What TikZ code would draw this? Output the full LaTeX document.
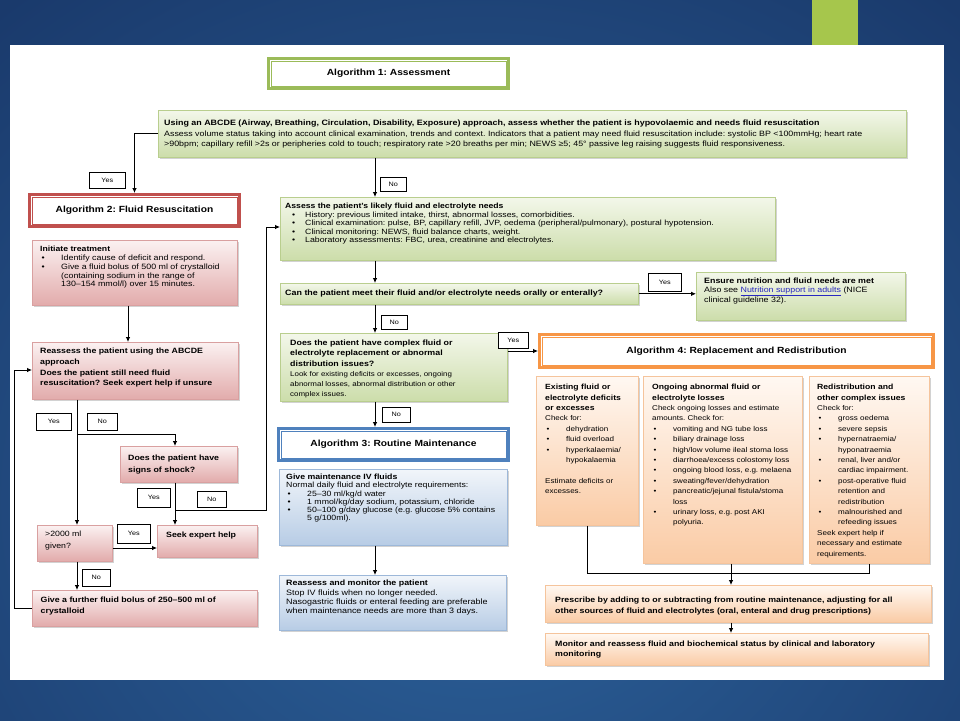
\documentclass[tikz,border=0pt]{standalone}
\usepackage{fontspec}
\setmainfont{Liberation Sans}[FakeStretch=1.15]
\frenchspacing
\usetikzlibrary{arrows.meta,shadows}
\definecolor{gA}{HTML}{9BBB59}
\definecolor{gB}{HTML}{B9CE8E}
\definecolor{gT}{HTML}{F3F7EA}
\definecolor{gF}{HTML}{CCDDAA}
\definecolor{rA}{HTML}{C0504D}
\definecolor{rB}{HTML}{D9A0A0}
\definecolor{rT}{HTML}{FBF1F1}
\definecolor{rF}{HTML}{E2ABAB}
\definecolor{bA}{HTML}{4F81BD}
\definecolor{bB}{HTML}{9DB8D9}
\definecolor{bT}{HTML}{F1F5FA}
\definecolor{bF}{HTML}{B7CCE5}
\definecolor{oA}{HTML}{F79646}
\definecolor{oB}{HTML}{F5C49C}
\definecolor{oT}{HTML}{FFF8F2}
\definecolor{oF}{HTML}{FACBA5}
\definecolor{bgIn}{HTML}{2D639C}
\definecolor{bgOut}{HTML}{1A3A6C}
\definecolor{sq}{HTML}{A6C64C}
\definecolor{lnk}{HTML}{2828C0}
\newcommand\B[1]{{\bfseries #1}}
\newcommand\bu{\makebox[21pt][l]{\hspace{1.5pt}\textbullet}}
\newcommand\bc{\hspace*{21pt}}
\newcommand\bua{\makebox[20pt][l]{\hspace{7pt}\textbullet}}
\newcommand\mkbox[8]{%
  \node[#1, minimum width=#5pt, minimum height=#6pt] (#2) at (#3,#4) {};
  \node[txt, #7] (#2t) at (#2.north west) {#8};}
\newcommand\mkboxc[8]{%
  \node[#1, minimum width=#5pt, minimum height=#6pt] (#2) at (#3,#4) {};
  \node[txt, anchor=west, #7] (#2t) at (#2.west) {#8};}
\newcommand\mkttl[7]{%
  \node[ttl=#2, minimum width=#5pt, minimum height=#6pt] (#1) at (#3,#4) {#7};
  \draw[#2, line width=0.7pt] ([shift={(4,4)}]#1.north west) rectangle ([shift={(-4,-4)}]#1.south east);}
\begin{document}
\begin{tikzpicture}[x=1pt,y=-1pt,
  txt/.style={inner sep=0pt, align=left, anchor=north west},
  shd/.style={drop shadow={shadow xshift=1.5pt, shadow yshift=-1.5pt, opacity=0.35}},
  gbox/.style={draw=gB, line width=0.6pt, top color=gT, bottom color=gF, shd, anchor=north west, inner sep=0pt},
  rbox/.style={draw=rB, line width=0.6pt, top color=rT, bottom color=rF, shd, anchor=north west, inner sep=0pt},
  bbox/.style={draw=bB, line width=0.6pt, top color=bT, bottom color=bF, shd, anchor=north west, inner sep=0pt},
  obox/.style={draw=oB, line width=0.6pt, top color=oT, bottom color=oF, shd, anchor=north west, inner sep=0pt},
  ttl/.style={draw=#1, line width=3pt, fill=white, anchor=north west, inner sep=0pt, font=\bfseries\fontsize{8.9}{11}\selectfont},
  lbl/.style={draw=black, line width=0.7pt, fill=white, inner sep=0pt, anchor=north west, font=\fontsize{6.3}{7}\selectfont},
  arr/.style={line width=0.8pt, -{Latex[length=5pt,width=4.5pt]}},
  ln/.style={line width=0.8pt}]
\useasboundingbox (0,0) rectangle (960,720);
\begin{scope}
\clip (0,0) rectangle (960,720);
\shade[inner color=bgIn, outer color=bgOut] (-250,-150) rectangle (1210,1150);
\end{scope}
\fill[sq] (812,0) rectangle (858,46);
\fill[white] (10,45) rectangle (944,680);

% titles
\mkttl{alg1}{gA}{267}{57}{240}{30}{Algorithm 1: Assessment}
\mkttl{alg2}{rA}{28}{193}{210}{32}{Algorithm 2: Fluid Resuscitation}
\mkttl{alg3}{bA}{277}{427}{230}{32}{Algorithm 3: Routine Maintenance}
\mkttl{alg4}{oA}{538}{333}{394}{33}{Algorithm 4: Replacement and Redistribution}

% algorithm 1
\mkbox{gbox}{top}{158}{110}{748}{47}{font=\fontsize{7.7}{10.3}\selectfont, xshift=6pt, yshift=-10pt}{%
\B{\fontsize{7.75}{10.3}\selectfont Using an ABCDE (Airway, Breathing, Circulation, Disability, Exposure) approach, assess whether the patient is hypovolaemic and needs fluid resuscitation}\\
Assess volume status taking into account clinical examination, trends and context. Indicators that a patient may need fluid resuscitation include: systolic BP <100mmHg; heart rate\\
>90bpm; capillary refill >2s or peripheries cold to touch; respiratory rate >20 breaths per min; NEWS ≥5; 45° passive leg raising suggests fluid responsiveness.}

\mkbox{gbox}{assess}{280}{197}{495}{63}{font=\fontsize{7.6}{8.2}\selectfont, xshift=5pt, yshift=-6pt}{%
\B{\fontsize{7.5}{8.2}\selectfont Assess the patient's likely fluid and electrolyte needs}\\[0.8pt]
\bua History: previous limited intake, thirst, abnormal losses, comorbidities.\\
\bua Clinical examination: pulse, BP, capillary refill, JVP, oedema (peripheral/pulmonary), postural hypotension.\\
\bua Clinical monitoring: NEWS, fluid balance charts, weight.\\
\bua Laboratory assessments: FBC, urea, creatinine and electrolytes.}

\mkboxc{gbox}{can}{280}{283}{358}{21}{font=\bfseries\fontsize{7.75}{9}\selectfont, xshift=5pt}{%
Can the patient meet their fluid and/or electrolyte needs orally or enterally?}

\mkbox{gbox}{ensure}{696}{272}{209}{48}{font=\fontsize{7.7}{8.3}\selectfont, xshift=8pt, yshift=-6pt}{%
\B{Ensure nutrition and fluid needs are met}\\
Also see \textcolor{lnk}{\underline{Nutrition support in adults}} (NICE\\
clinical guideline 32).}

\mkbox{gbox}{complex}{280}{333}{227}{68}{font=\fontsize{6.9}{10.2}\selectfont, xshift=10pt, yshift=-7pt}{%
\B{\fontsize{7.7}{10.2}\selectfont Does the patient have complex fluid or}\\
\B{\fontsize{7.7}{10.2}\selectfont electrolyte replacement or abnormal}\\
\B{\fontsize{7.7}{10.2}\selectfont distribution issues?}\\
Look for existing deficits or excesses, ongoing\\
abnormal losses, abnormal distribution or other\\
complex issues.}

% algorithm 3
\mkbox{bbox}{maint}{279}{469}{228}{76}{font=\fontsize{7.6}{8.2}\selectfont, xshift=7pt, yshift=-5pt}{%
\B{Give maintenance IV fluids}\\
Normal daily fluid and electrolyte requirements:\\
\bu 25–30 ml/kg/d water\\
\bu 1 mmol/kg/day sodium, potassium, chloride\\
\bu 50–100 g/day glucose (e.g. glucose 5\% contains\\
\bc 5 g/100ml).}

\mkbox{bbox}{remon}{279}{575}{227}{55}{font=\fontsize{7.8}{9.3}\selectfont, xshift=7pt, yshift=-5pt}{%
\B{\fontsize{7.7}{9.3}\selectfont Reassess and monitor the patient}\\
Stop IV fluids when no longer needed.\\
Nasogastric fluids or enteral feeding are preferable\\
when maintenance needs are more than 3 days.}

% algorithm 2
\mkbox{rbox}{init}{32}{240}{205}{65}{font=\fontsize{7.7}{8.8}\selectfont, xshift=8pt, yshift=-6pt}{%
\B{\fontsize{7.55}{8.8}\selectfont Initiate treatment}\\
\bu Identify cause of deficit and respond.\\
\bu Give a fluid bolus of 500 ml of crystalloid\\
\bc (containing sodium in the range of\\
\bc 130–154 mmol/l) over 15 minutes.}

\mkbox{rbox}{reass}{32}{342}{206}{57}{font=\bfseries\fontsize{7.65}{10.7}\selectfont, xshift=8pt, yshift=-6pt}{%
Reassess the patient using the ABCDE\\
approach\\
Does the patient still need fluid\\
resuscitation? Seek expert help if unsure}

\mkbox{rbox}{shock}{120}{446}{117}{36}{font=\bfseries\fontsize{7.65}{11.6}\selectfont, xshift=8pt, yshift=-9pt}{%
Does the patient have\\
signs of shock?}

\mkbox{rbox}{m2000}{37}{525}{75}{36}{font=\fontsize{7.6}{12}\selectfont, xshift=8pt, yshift=-6pt}{%
>2000 ml\\
given?}

\mkbox{rbox}{seek}{157}{525}{100}{32}{font=\bfseries\fontsize{7.65}{11}\selectfont, xshift=9pt, yshift=-7pt}{%
Seek expert help}

\mkbox{rbox}{further}{32}{590}{225}{36}{font=\bfseries\fontsize{7.65}{11}\selectfont, xshift=8.5pt, yshift=-7pt}{%
Give a further fluid bolus of 250–500 ml of\\
crystalloid}

% algorithm 4
\mkbox{obox}{col1}{536}{376}{102}{149}{font=\fontsize{7}{10.4}\selectfont, xshift=9pt, yshift=-8pt}{%
\B{\fontsize{7.5}{10.4}\selectfont Existing fluid or}\\
\B{\fontsize{7.5}{10.4}\selectfont electrolyte deficits}\\
\B{\fontsize{7.5}{10.4}\selectfont or excesses}\\
Check for:\\
\bu dehydration\\
\bu fluid overload\\
\bu hyperkalaemia/\\
\bc hypokalaemia\\[10.4pt]
Estimate deficits or\\
excesses.}

\mkbox{obox}{col2}{643}{376}{159}{187}{font=\fontsize{7}{10.4}\selectfont, xshift=9pt, yshift=-8pt}{%
\B{\fontsize{7.5}{10.4}\selectfont Ongoing abnormal fluid or}\\
\B{\fontsize{7.5}{10.4}\selectfont electrolyte losses}\\
Check ongoing losses and estimate\\
amounts. Check for:\\
\bu vomiting and NG tube loss\\
\bu biliary drainage loss\\
\bu high/low volume ileal stoma loss\\
\bu diarrhoea/excess colostomy loss\\
\bu ongoing blood loss, e.g. melaena\\
\bu sweating/fever/dehydration\\
\bu pancreatic/jejunal fistula/stoma\\
\bc loss\\
\bu urinary loss, e.g. post AKI\\
\bc polyuria.}

\mkbox{obox}{col3}{809}{376}{120}{187}{font=\fontsize{7}{10.4}\selectfont, xshift=8pt, yshift=-8pt}{%
\B{\fontsize{7.5}{10.4}\selectfont Redistribution and}\\
\B{\fontsize{7.5}{10.4}\selectfont other complex issues}\\
Check for:\\
\bu gross oedema\\
\bu severe sepsis\\
\bu hypernatraemia/\\
\bc hyponatraemia\\
\bu renal, liver and/or\\
\bc cardiac impairment.\\
\bu post-operative fluid\\
\bc retention and\\
\bc redistribution\\
\bu malnourished and\\
\bc refeeding issues\\
Seek expert help if\\
necessary and estimate\\
requirements.}

\mkbox{obox}{presc}{545}{585}{386}{37}{font=\bfseries\fontsize{7.65}{11}\selectfont, xshift=10pt, yshift=-12pt}{%
Prescribe by adding to or subtracting from routine maintenance, adjusting for all\\
other sources of fluid and electrolytes (oral, enteral and drug prescriptions)}

\mkbox{obox}{monit}{545}{633}{383}{32}{font=\bfseries\fontsize{7.65}{10}\selectfont, xshift=10pt, yshift=-7.5pt}{%
Monitor and reassess fluid and biochemical status by clinical and laboratory\\
monitoring}

% connectors
\coordinate (cx) at (375,0);
\coordinate (cl) at (128,0);
\coordinate (ca) at (77,0);
\coordinate (cs) at (175,0);
\coordinate (cp) at (731,0);
\coordinate (b1) at (77,434);
\coordinate (b2) at (175,510);
\coordinate (b3) at (266,510);
\coordinate (b4) at (266,227);
\coordinate (b5) at (0,548);
\coordinate (l2) at (14,370);
\coordinate (k) at (0,573);

\draw[arr] (top.west) -| (alg2.north);
\draw[arr] (top.south -| cx) -- (assess.north -| cx);
\draw[arr] (assess.south -| cx) -- (can.north -| cx);
\draw[arr] (can.south -| cx) -- (complex.north -| cx);
\draw[arr] (complex.south -| cx) -- (alg3.north -| cx);
\draw[arr] (maint.south -| cx) -- (remon.north -| cx);
\draw[arr] (can.east) -- (ensure.west |- can.east);
\draw[arr] (complex.east |- alg4.west) -- (alg4.west);
\draw[arr] (init.south -| cl) -- (reass.north -| cl);
\draw[arr] (reass.south -| ca) -- (m2000.north -| ca);
\draw[arr] (b1) -| (shock.north -| cs);
\draw[arr] (shock.south -| cs) -- (seek.north -| cs);
\draw[arr] (b2) -- (b3) -- (b4) -- (assess.west |- b4);
\draw[arr] (m2000.east |- b5) -- (seek.west |- b5);
\draw[arr] (m2000.south -| ca) -- (further.north -| ca);
\draw[arr] (further.west) -| (l2) -- (reass.west |- l2);
\draw[ln] (col1.south) |- (col3.south |- k) -- (col3.south);
\draw[arr] (col2.south -| cp) -- (presc.north -| cp);
\draw[arr] (presc.south -| cp) -- (monit.north -| cp);

% labels
\node[lbl, minimum width=36pt, minimum height=16pt] (yTop) at (89,172) {Yes};
\node[lbl, minimum width=26pt, minimum height=14pt] (nTop) at (380,177) {No};
\node[lbl, minimum width=33pt, minimum height=18pt] (yCan) at (648,273) {Yes};
\node[lbl, minimum width=26pt, minimum height=14pt] (nCan) at (381,315) {No};
\node[lbl, minimum width=30pt, minimum height=16pt] (yCx) at (498,332) {Yes};
\node[lbl, minimum width=28pt, minimum height=15pt] (nCx) at (382,407) {No};
\node[lbl, minimum width=35pt, minimum height=17pt] (yRe) at (36,413) {Yes};
\node[lbl, minimum width=30pt, minimum height=17pt] (nRe) at (87,413) {No};
\node[lbl, minimum width=33pt, minimum height=19pt] (ySh) at (137,488) {Yes};
\node[lbl, minimum width=29pt, minimum height=16pt] (nSh) at (197,491) {No};
\node[lbl, minimum width=33pt, minimum height=19pt] (y20) at (117,524) {Yes};
\node[lbl, minimum width=28pt, minimum height=17pt] (n20) at (82,569) {No};
\end{tikzpicture}
\end{document}
